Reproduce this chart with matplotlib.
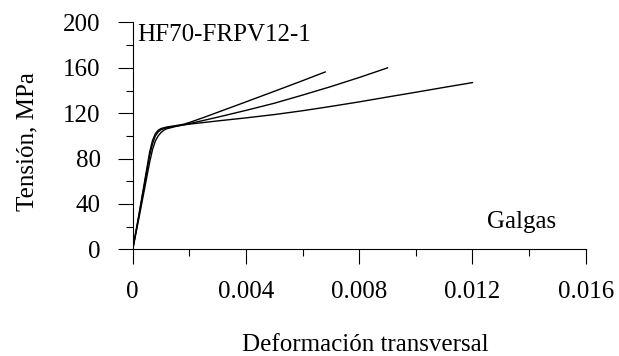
import matplotlib
matplotlib.use("Agg")
import matplotlib.pyplot as plt

# Curvas tension-deformacion transversal (galgas)
strain_a = [0, 0.0002, 0.0004, 0.0006, 0.0007, 0.0008, 0.0009, 0.001, 0.0012,
            0.0015, 0.0018, 0.002, 0.0025, 0.003, 0.004, 0.005, 0.006, 0.0068]
stress_a = [0, 28, 57, 86, 96, 102, 105, 106.5, 107.8,
            109, 110.3, 111.8, 116.2, 120.8, 130.0, 139.3, 148.7, 156.4]

strain_b = [0, 0.0002, 0.0004, 0.0006, 0.0007, 0.0008, 0.0009, 0.001, 0.0011, 0.0012,
            0.0015, 0.002, 0.003, 0.004, 0.005, 0.006, 0.007, 0.008, 0.009]
stress_b = [0, 25, 51, 77, 88, 95.5, 100, 103, 105, 106.3,
            108.2, 110.8, 116.5, 122.5, 128.8, 136, 143.5, 151.5, 160]

strain_c = [0, 0.0002, 0.0004, 0.0006, 0.0007, 0.0008, 0.0009, 0.001, 0.0012,
            0.0015, 0.002, 0.003, 0.004, 0.005, 0.006, 0.007, 0.008, 0.009, 0.01, 0.011, 0.012]
stress_c = [0, 27, 55, 83, 93, 100, 103.5, 105.5, 107.2,
            108.6, 110.4, 113.2, 115.9, 118.8, 122.2, 126, 130, 134.3, 138.5, 142.8, 147]

x_ticks = [0, 0.004, 0.008, 0.012, 0.016]
x_labels = ["0", "0.004", "0.008", "0.012", "0.016"]
x_minor = [0.002, 0.006, 0.010, 0.014]
y_ticks = [0, 40, 80, 120, 160, 200]
y_minor = [20, 60, 100, 140, 180]

plt.rcParams["font.family"] = ["Liberation Serif", "DejaVu Serif"]

fig = plt.figure(figsize=(6.19, 3.56), dpi=100)
ax = fig.add_axes([0.2144, 0.2997, 0.7318, 0.6371])

for sx, sy in [(strain_a, stress_a), (strain_b, stress_b), (strain_c, stress_c)]:
    ax.plot(sx, sy, color="black", linewidth=1.0)

ax.set_xlim(0, 0.016)
ax.set_ylim(0, 200)
ax.set_xticks(x_ticks)
ax.set_xticklabels(x_labels)
ax.set_xticks(x_minor, minor=True)
ax.set_yticks(y_ticks)
ax.set_yticks(y_minor, minor=True)

ax.spines["top"].set_visible(False)
ax.spines["right"].set_visible(False)
ax.spines["left"].set_linewidth(0.8)
ax.spines["bottom"].set_linewidth(0.8)

ax.tick_params(which="major", direction="out", length=10.5, width=0.8,
               labelsize=18, pad=12.5)
ax.tick_params(which="minor", direction="out", length=5, width=0.8)

ax.set_xlabel("Deformación transversal", fontsize=18)
ax.xaxis.set_label_coords(0.513, -0.375)
ax.set_ylabel("Tensión, MPa", fontsize=18)
ax.yaxis.set_label_coords(-0.209, 0.474)

ax.text(0.00016, 184, "HF70-FRPV12-1", fontsize=18, ha="left", va="baseline")
ax.text(0.0125, 19, "Galgas", fontsize=18, ha="left", va="baseline")

fig.savefig("out.png", dpi=100)
